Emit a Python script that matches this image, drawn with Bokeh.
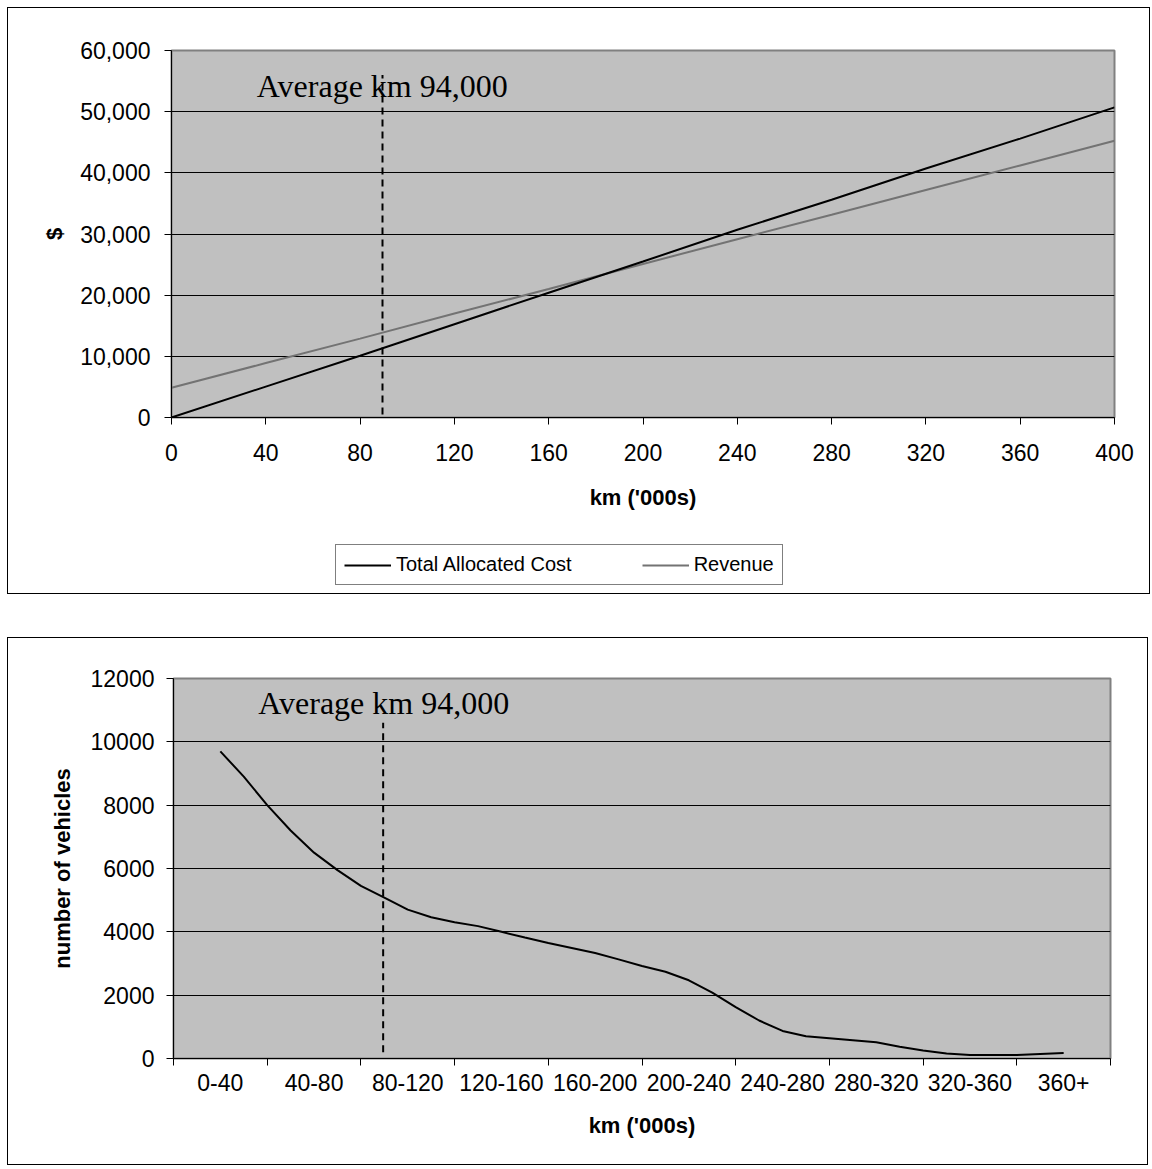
from bokeh.plotting import figure
from bokeh.models import (Legend, LegendItem, Label, FixedTicker,
                          NumeralTickFormatter, Range1d, ColumnDataSource)
from bokeh.layouts import column
from bokeh.embed import file_html
from bokeh.resources import INLINE

# ---------------- data: top chart ----------------
km_top = [0, 40, 80, 120, 160, 200, 240, 280, 320, 360, 400]
total_allocated_cost = [0, 5050, 10100, 15250, 20400, 25500, 30700, 35600, 40700, 45600, 50700]
revenue = [4850, 8900, 12900, 17000, 21000, 25100, 29150, 33150, 37200, 41200, 45250]
top_x_ticks = [0, 40, 80, 120, 160, 200, 240, 280, 320, 360, 400]
top_y_ticks = [0, 10000, 20000, 30000, 40000, 50000, 60000]
series_names = ["Total Allocated Cost", "Revenue"]

# average km marker (as drawn)
avg_km = [89.5]
avg_top_y0 = [500]
avg_top_y1 = [56000]
avg_text = "Average km 94,000"

# ---------------- data: bottom chart ----------------
km_bottom = [20, 30, 40, 50, 60, 70, 80, 90, 100, 110, 120, 130, 140, 150, 160,
             170, 180, 190, 200, 210, 220, 230, 240, 250, 260, 270, 280, 290,
             300, 310, 320, 330, 340, 350, 360, 370, 380]
vehicles = [9700, 8900, 8000, 7200, 6500, 5950, 5450, 5080, 4700, 4460,
            4300, 4180, 4000, 3820, 3650, 3490, 3330, 3130, 2920, 2740,
            2470, 2080, 1620, 1200, 870, 700, 640, 580, 510, 370,
            250, 160, 110, 110, 110, 140, 170]
category_labels = ["0-40", "40-80", "80-120", "120-160", "160-200",
                   "200-240", "240-280", "280-320", "320-360", "360+"]
category_edges = [0, 40, 80, 120, 160, 200, 240, 280, 320, 360, 400]
bottom_y_ticks = [0, 2000, 4000, 6000, 8000, 10000, 12000]
avg_bot_y0 = [200]
avg_bot_y1 = [10600]

FONT = "Liberation Sans"
SERIF = "Liberation Serif"
COST_COLOR = "black"
REV_COLOR = "#737373"


def style_axes(p):
    for ax in (p.xaxis[0], p.yaxis[0]):
        ax.axis_line_color = "black"
        ax.axis_line_width = 1
        ax.major_tick_line_color = "black"
        ax.major_tick_in = 0
        ax.major_tick_out = 7
        ax.minor_tick_in = 0
        ax.minor_tick_out = 0
        ax.major_label_text_font = FONT
        ax.major_label_text_font_size = "23px"
        ax.major_label_text_color = "black"
        ax.axis_label_text_font = FONT
        ax.axis_label_text_font_size = "22px"
        ax.axis_label_text_font_style = "bold"
        ax.axis_label_text_color = "black"
    p.xgrid.visible = False
    p.ygrid.grid_line_color = "black"
    p.ygrid.grid_line_width = 1


# ---------------- top figure ----------------
p1 = figure(width=1141, height=530, x_range=Range1d(0, 400), y_range=Range1d(0, 60000),
            output_backend="svg", toolbar_location=None,
            min_border_left=163, min_border_right=35, min_border_top=42, min_border_bottom=121,
            background_fill_color="#C0C0C0", border_fill_color="white",
            outline_line_color="#808080", outline_line_width=2)
style_axes(p1)
p1.xaxis.ticker = FixedTicker(ticks=top_x_ticks)
p1.yaxis.ticker = FixedTicker(ticks=top_y_ticks)
p1.yaxis.formatter = NumeralTickFormatter(format="0,0")
p1.xaxis.axis_label = "km ('000s)"
p1.yaxis.axis_label = "$"
p1.xaxis.major_label_standoff = 19
p1.xaxis.axis_label_standoff = 21
p1.yaxis.major_label_standoff = 14
p1.yaxis.axis_label_standoff = 10

src_top = ColumnDataSource(dict(km=km_top, cost=total_allocated_cost, rev=revenue))
p1.line("km", "rev", source=src_top, line_color=REV_COLOR, line_width=2)
p1.line("km", "cost", source=src_top, line_color=COST_COLOR, line_width=2)
p1.segment(x0=avg_km, y0=avg_top_y0, x1=avg_km, y1=avg_top_y1,
           line_color="black", line_width=2, line_dash="7 5")
p1.add_layout(Label(x=36.2, y=54200, text=avg_text, text_font=SERIF,
                    text_font_size="32px", text_color="black",
                    text_baseline="alphabetic"))

# legend strip (part of the top chart's box); its lines share the chart's data
# but its ranges keep them out of view, so only the legend shows
p_leg = figure(width=1141, height=55, x_range=Range1d(-1000, -999), y_range=Range1d(-1000, -999),
               output_backend="svg", toolbar_location=None,
               x_axis_type=None, y_axis_type=None,
               min_border_left=0, min_border_right=0, min_border_top=0, min_border_bottom=0,
               background_fill_color="white", border_fill_color="white",
               outline_line_color=None)
p_leg.grid.visible = False
leg_cost = p_leg.line("km", "cost", source=src_top, line_color=COST_COLOR, line_width=2)
leg_rev = p_leg.line("km", "rev", source=src_top, line_color=REV_COLOR, line_width=2)
legend = Legend(items=[LegendItem(label=series_names[0], renderers=[leg_cost]),
                       LegendItem(label=series_names[1], renderers=[leg_rev])],
                orientation="horizontal", location=(164, 8),
                label_text_font=FONT, label_text_font_size="20px", label_text_color="black",
                glyph_width=47, glyph_height=20, label_standoff=5, spacing=70,
                padding=8, margin=0, border_line_color="black", border_line_width=1,
                background_fill_color="white", background_fill_alpha=1)
p_leg.add_layout(legend, "center")

top_box = column(p1, p_leg, spacing=0)
top_box.styles = {"border": "1px solid #000"}
top_box.margin = (7, 0, 0, 7)

# ---------------- bottom figure ----------------
p2 = figure(width=1141, height=528, x_range=Range1d(0, 400), y_range=Range1d(0, 12000),
            output_backend="svg", toolbar_location=None,
            min_border_left=165, min_border_right=39, min_border_top=40, min_border_bottom=108,
            background_fill_color="#C0C0C0", border_fill_color="white",
            outline_line_color="#808080", outline_line_width=2)
style_axes(p2)
centers = [(category_edges[i] + category_edges[i + 1]) / 2 for i in range(len(category_labels))]
p2.xaxis.ticker = FixedTicker(ticks=centers, minor_ticks=category_edges)
p2.xaxis.major_label_overrides = {c: lab for c, lab in zip(centers, category_labels)}
p2.xaxis.major_tick_out = 0
p2.xaxis.minor_tick_out = 7
p2.xaxis.minor_tick_line_color = "black"
p2.yaxis.ticker = FixedTicker(ticks=bottom_y_ticks)
p2.yaxis.formatter = NumeralTickFormatter(format="0")
p2.xaxis.axis_label = "km ('000s)"
p2.yaxis.axis_label = "number of vehicles"
p2.xaxis.major_label_standoff = 8
p2.xaxis.axis_label_standoff = 19
p2.yaxis.major_label_standoff = 12
p2.yaxis.axis_label_standoff = 13

src_bot = ColumnDataSource(dict(km=km_bottom, n=vehicles))
p2.line("km", "n", source=src_bot, line_color="black", line_width=2)
p2.segment(x0=avg_km, y0=avg_bot_y0, x1=avg_km, y1=avg_bot_y1,
           line_color="black", line_width=2, line_dash="7 5")
p2.add_layout(Label(x=36.2, y=11240, text=avg_text, text_font=SERIF,
                    text_font_size="32px", text_color="black",
                    text_baseline="alphabetic"))
p2.styles = {"border": "1px solid #000"}
p2.margin = (43, 0, 0, 7)

layout = column(top_box, p2, spacing=0)
open("out.html", "w").write(file_html(layout, INLINE))
